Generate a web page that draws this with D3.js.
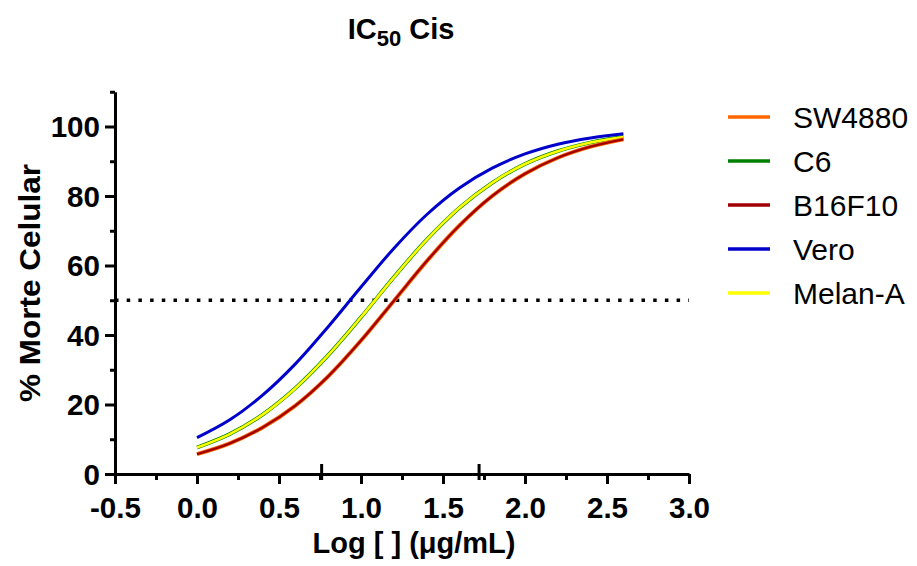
<!DOCTYPE html>
<html>
<head>
<meta charset="utf-8">
<script src="https://cdn.jsdelivr.net/npm/d3@7"></script>
<style>
  body { margin: 0; background: #fff; }
  text { font-family: "Liberation Sans", Arial, sans-serif; fill: #000; }
</style>
</head>
<body>
<div id="vis"></div>
<script>
var width = 917;
var height = 566;

// log concentration where each curve was read
var logDose = [0.0, 0.2, 0.4, 0.6, 0.8, 1.0, 1.2, 1.4, 1.6, 1.8, 2.0, 2.2, 2.4, 2.6];

// % morte celular
var sw4880 = [5.7, 8.8, 13.4, 19.7, 28.1, 38.4, 49.8, 61.2, 71.5, 80.0, 86.4, 91.0, 94.2, 96.3];
var c6     = [7.6, 11.5, 17.1, 24.7, 34.2, 45.1, 56.6, 67.4, 76.6, 83.8, 89.2, 92.9, 95.4, 97.0];
var b16f10 = [5.7, 8.8, 13.4, 19.7, 28.1, 38.4, 49.8, 61.2, 71.5, 80.0, 86.4, 91.0, 94.2, 96.3];
var vero   = [10.45, 15.6, 22.7, 31.7, 42.4, 53.8, 64.9, 74.6, 82.3, 88.0, 92.1, 94.9, 96.7, 97.9];
var melanA = [7.6, 11.5, 17.1, 24.7, 34.2, 45.1, 56.6, 67.4, 76.6, 83.8, 89.2, 92.9, 95.4, 97.0];

var seriesNames  = ["SW4880", "C6", "B16F10", "Vero", "Melan-A"];
var seriesValues = [sw4880, c6, b16f10, vero, melanA];
var seriesColors = ["#ff6600", "#008000", "#a00000", "#0000cc", "#ffff00"];

var xMajorTicks = [-0.5, 0.0, 0.5, 1.0, 1.5, 2.0, 2.5, 3.0];
var xMinorTicks = [-0.25, 0.25, 0.75, 1.25, 1.75, 2.25, 2.75];
var xCrossTicks = [0.76, 1.72];
var yMajorTicks = [0, 20, 40, 60, 80, 100];
var yMinorTicks = [10, 30, 50, 70, 90, 110];
var halfLine = 50;

var svg = d3.select('#vis').append('svg')
    .attr('width', width)
    .attr('height', height);

var x = d3.scaleLinear().domain([-0.5, 3.0]).range([115, 689]);
var y = d3.scaleLinear().domain([0, 110]).range([474, 91.75]);

// widen glyphs a little along the text direction
function stretch(sel, k) {
  sel.each(function () {
    var t = d3.select(this);
    var tx = +t.attr('x') || 0, ty = +t.attr('y') || 0;
    var base = t.attr('transform') || '';
    t.attr('x', 0).attr('y', 0)
     .attr('transform', base + ' translate(' + tx + ',' + ty + ') scale(' + k + ',1)');
  });
}

// dotted 50% line
svg.append('line')
    .attr('x1', x(-0.5)).attr('x2', x(3.0))
    .attr('y1', y(halfLine)).attr('y2', y(halfLine))
    .attr('stroke', '#000')
    .attr('stroke-width', 3.5)
    .attr('stroke-dasharray', '3.5,8.2');

// curves
var line = d3.line()
    .x(function (d, i) { return x(logDose[i]); })
    .y(function (d) { return y(d); })
    .curve(d3.curveCatmullRom);

var drawOrder = [1, 4, 0, 2, 3];
var widths = [4, 3.8, 2.3, 3, 2.6];
svg.append('g').selectAll('path')
    .data(drawOrder)
    .enter().append('path')
    .attr('d', function (k) { return line(seriesValues[k]); })
    .attr('fill', 'none')
    .attr('stroke', function (k) { return seriesColors[k]; })
    .attr('stroke-width', function (k) { return widths[k]; });

// axes
var axisW = 3;
var gx = svg.append('g').attr('transform', 'translate(0,' + y(0) + ')');
gx.call(d3.axisBottom(x).tickValues(xMajorTicks).tickSize(10).tickSizeOuter(0)
    .tickFormat(function (d) { return d.toFixed(1); }));
gx.append('g').call(d3.axisBottom(x).tickValues(xMinorTicks).tickSize(6).tickFormat(''))
    .select('.domain').remove();
gx.selectAll('.cross').data(xCrossTicks).enter().append('line')
    .attr('x1', function (d) { return x(d); }).attr('x2', function (d) { return x(d); })
    .attr('y1', -10).attr('y2', 6)
    .attr('stroke', '#000').attr('stroke-width', axisW);

var gy = svg.append('g').attr('transform', 'translate(' + x(-0.5) + ',0)');
gy.call(d3.axisLeft(y).tickValues(yMajorTicks).tickSize(10).tickSizeOuter(0));
gy.append('g').call(d3.axisLeft(y).tickValues(yMinorTicks).tickSize(5).tickFormat(''))
    .select('.domain').remove();

svg.selectAll('.domain, .tick line')
    .attr('stroke', '#000').attr('stroke-width', axisW);
svg.selectAll('.tick text')
    .attr('fill', '#000')
    .style('font-size', '29px').style('font-weight', 'bold')
    .style('font-family', '"Liberation Sans", Arial, sans-serif');
gx.selectAll('.tick text').attr('y', 23).attr('dy', '0.71em');
gy.selectAll('.tick text').attr('x', -15).attr('dy', '0.36em');
stretch(gx.selectAll('.tick text'), 1.02);
stretch(gy.selectAll('.tick text'), 1.02);

// title
var title = svg.append('text')
    .attr('x', 401).attr('y', 39)
    .attr('text-anchor', 'middle')
    .style('font-size', '29px').style('font-weight', 'bold');
title.append('tspan').text('IC');
title.append('tspan').attr('dy', 7).style('font-size', '22px').text('50');
title.append('tspan').attr('dy', -7).text(' Cis');

// axis titles
svg.append('text')
    .attr('x', 414).attr('y', 553)
    .attr('text-anchor', 'middle')
    .style('font-size', '29px').style('font-weight', 'bold')
    .text('Log [ ] (\u03BCg/mL)');

var yt = svg.append('text')
    .attr('transform', 'translate(40,283) rotate(-90)')
    .attr('text-anchor', 'middle')
    .style('font-size', '30px').style('font-weight', 'bold')
    .text('% Morte Celular');
stretch(yt, 1.05);

// legend
var legendY = [117, 161, 205, 249, 293];
var lg = svg.append('g').selectAll('g')
    .data(seriesNames)
    .enter().append('g')
    .attr('transform', function (d, i) { return 'translate(728,' + legendY[i] + ')'; });
lg.append('line')
    .attr('x1', 0).attr('x2', 42)
    .attr('stroke', function (d, i) { return seriesColors[i]; })
    .attr('stroke-width', 3.5);
lg.append('text')
    .attr('x', 65).attr('y', 10.5)
    .style('font-size', '30px')
    .text(function (d) { return d; });
</script>
</body>
</html>
